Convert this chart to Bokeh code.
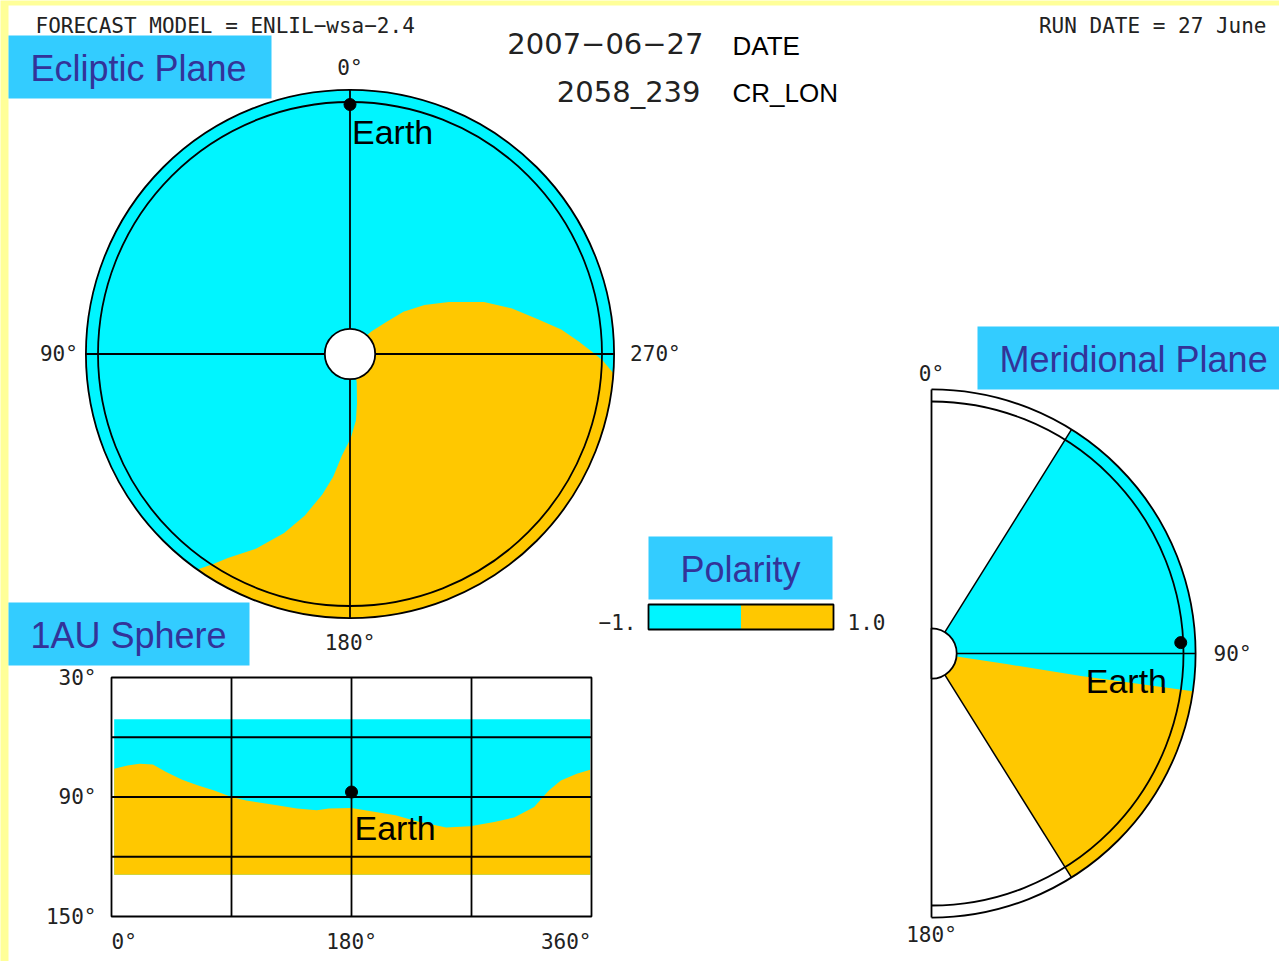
import numpy as np
from bokeh.plotting import figure
from bokeh.models import Range1d
from bokeh.core.properties import value
from bokeh.embed import file_html
from bokeh.resources import INLINE

W, H = 1279, 961
CYAN = "#00F5FF"
GOLD = "#FFC800"
TAG_FILL = "#33CCFF"
TAG_TEXT = "#333399"
INK = "#222222"
MONO = "DejaVu Sans Mono"
LW = 1.8

# ---------------------------------------------------------------- data
# Ecliptic plane: sector boundaries, radius (AU) vs longitude (deg, CCW from Earth)
ecl_lead_r = [0.10, 0.125, 0.19, 0.27, 0.354, 0.443, 0.570, 0.668, 0.754, 0.844, 0.909, 0.963, 1.005, 1.048]
ecl_lead_lon = [318.0, 316.4, 311.4, 308.3, 303.4, 297.7, 291.2, 285.7, 280.7, 276.6, 273.1, 270.4, 268.4, 265.8]
ecl_trail_r = [0.10, 0.115, 0.197, 0.265, 0.334, 0.405, 0.492, 0.567, 0.665, 0.757, 0.858, 0.944, 0.992, 1.048]
ecl_trail_lon = [194.0, 193.4, 188.1, 185.1, 180.5, 175.4, 172.2, 168.9, 164.4, 159.8, 154.2, 149.1, 147.0, 144.7]
ecl_r_inner = 0.1
ecl_r_1au = 1.0
ecl_r_outer = 1.048
ecl_tick_lon = [0, 90, 180, 270]
ecl_tick_labels = ["0°", "90°", "180°", "270°"]

# Earth
earth_r = 0.99
earth_lon_ecl = 0.0
earth_lon_sph = 180.0
earth_colat = 87.5

# Meridional plane: model colatitude extent and sector boundary (radius AU vs colatitude deg)
mer_colat_min = 32.0
mer_colat_max = 148.0
mer_bnd_r = [0.10, 0.30, 0.60, 1.048]
mer_bnd_colat = [97.0, 98.0, 98.6, 98.2]
mer_tick_labels = ["0°", "90°", "180°"]

# 1 AU sphere: sector boundary colatitude vs Carrington-like longitude
sph_lon = [2, 12, 21, 31, 41, 53, 65, 77, 90, 101, 124, 139, 154, 163, 180, 198, 213,
           228, 243, 251, 269, 287, 302, 317, 328, 337, 349, 359]
sph_bnd_colat = [75.8, 74.2, 73.3, 73.7, 77.5, 81.3, 84.2, 86.7, 90.0, 91.7, 94.2, 95.8,
                 96.7, 95.8, 95.5, 97.5, 99.2, 102.0, 104.2, 105.3, 104.7, 102.5, 100.3,
                 95.0, 86.7, 81.7, 78.3, 76.3]
sph_lon_min, sph_lon_max = 2.0, 359.0
sph_colat_min, sph_colat_max = 51.0, 129.0
sph_lon_ticks = [0, 180, 360]
sph_lon_labels = ["0°", "180°", "360°"]
sph_colat_ticks = [30, 90, 150]
sph_colat_labels = ["30°", "90°", "150°"]
sph_lon_grid = [90, 180, 270]
sph_colat_grid = [60, 90, 120]

# Polarity scale
polarity_min, polarity_mid, polarity_max = -1.0, 0.0, 1.0
polarity_labels = ["\u22121.", "1.0"]

# ---------------------------------------------------------------- figure
p = figure(width=W, height=H, x_range=Range1d(0, W), y_range=Range1d(H, 0),
           x_axis_type=None, y_axis_type=None, toolbar_location=None,
           output_backend="svg", min_border=0, outline_line_color=None,
           background_fill_color="#FFFF99", border_fill_color="#FFFF99")


def lin(p0, v0, p1, v1):
    s = (v1 - v0) / (p1 - p0)
    return lambda px: v0 + (px - p0) * s


def xr(f):
    return Range1d(f(0), f(W))


def yr(f):
    return Range1d(f(H), f(0))


ecl_fx, ecl_fy = lin(349.5, 0, 601.5, 1), lin(353.5, 0, 101.5, 1)
mer_fx, mer_fy = lin(931, 0, 1183, 1), lin(653, 0, 401, 1)
sph_fx, sph_fy = lin(111, 0, 591, 360), lin(677, 30, 916, 150)
pol_fx = lin(648, -1, 833, 1)

p.extra_x_ranges = {"ecl_x": xr(ecl_fx), "mer_x": xr(mer_fx), "sph_x": xr(sph_fx), "pol_x": xr(pol_fx)}
p.extra_y_ranges = {"ecl_y": yr(ecl_fy), "mer_y": yr(mer_fy), "sph_y": yr(sph_fy)}

E = dict(x_range_name="ecl_x", y_range_name="ecl_y")
M = dict(x_range_name="mer_x", y_range_name="mer_y")
S = dict(x_range_name="sph_x", y_range_name="sph_y")
P = dict(x_range_name="pol_x")


def label(x, y, s, size, font=MONO, color=INK, align="left",
          baseline="middle", **kw):
    p.text(x=[x], y=[y], text=[s], text_font=value(font), text_font_size=f"{size}px",
           text_color=color, text_align=align, text_baseline=baseline, **kw)


# white sheet on the page
p.quad(left=8, right=W, top=5, bottom=H, fill_color="white", line_color=None)

# ---------------------------------------------------------------- header
label(35, 25, "FORECAST MODEL = ENLIL\u2212wsa\u22122.4", 21)
label(1266, 25, "RUN DATE = 27 June", 21, align="right")
label(703, 43, "2007\u221206\u221227", 29, font="DejaVu Sans", align="right")
label(700, 91, "2058_239", 29, font="DejaVu Sans", align="right")
label(732, 45, "DATE", 26, font="Liberation Sans", color="black")
label(732, 92, "CR_LON", 26, font="Liberation Sans", color="black")

# ---------------------------------------------------------------- ecliptic plane
def ecl_xy(r, lon):
    r = np.asarray(r, dtype=float)
    t = np.radians(np.asarray(lon, dtype=float))
    return -r * np.sin(t), r * np.cos(t)


p.circle(x=[0], y=[0], radius=ecl_r_outer, fill_color=CYAN, line_color=None, **E)

arc_out = np.linspace(ecl_lead_lon[-1], ecl_trail_lon[-1], 120)
arc_in = np.linspace(ecl_trail_lon[0], ecl_lead_lon[0], 60)
g_lon = np.concatenate([ecl_lead_lon, arc_out, ecl_trail_lon[::-1], arc_in])
g_r = np.concatenate([ecl_lead_r, np.full(arc_out.size, ecl_r_outer),
                      ecl_trail_r[::-1], np.full(arc_in.size, ecl_r_inner)])
gx, gy = ecl_xy(g_r, g_lon)
p.patch(x=gx, y=gy, fill_color=GOLD, line_color=None, **E)

p.circle(x=[0, 0], y=[0, 0], radius=[ecl_r_1au, ecl_r_outer], fill_color=None,
         line_color="black", line_width=LW, **E)
p.segment(x0=[-ecl_r_outer, 0], y0=[0, -ecl_r_outer], x1=[ecl_r_outer, 0],
          y1=[0, ecl_r_outer], line_color="black", line_width=LW, **E)
p.circle(x=[0], y=[0], radius=ecl_r_inner, fill_color="white", line_color="black",
         line_width=LW, **E)

ex, ey = ecl_xy(earth_r, earth_lon_ecl)
p.scatter(x=[float(ex)], y=[float(ey)], size=12, color="black", **E)
label(float(ex), float(ey), "Earth", 34, font="Liberation Sans", color="black",
      baseline="middle", x_offset=2, y_offset=27, **E)

# longitude labels around the disc
tx, ty = ecl_xy(ecl_r_outer, ecl_tick_lon)
label(float(tx[0]), float(ty[0]), ecl_tick_labels[0], 21, align="center", y_offset=-22, **E)
label(float(tx[1]), float(ty[1]), ecl_tick_labels[1], 21, align="right", x_offset=-8, **E)
label(float(tx[2]), float(ty[2]), ecl_tick_labels[2], 21, align="center", y_offset=25, **E)
label(float(tx[3]), float(ty[3]), ecl_tick_labels[3], 21, align="left", x_offset=16, **E)

# ---------------------------------------------------------------- meridional plane
def mer_xy(r, colat):
    r = np.asarray(r, dtype=float)
    t = np.radians(np.asarray(colat, dtype=float))
    return r * np.sin(t), r * np.cos(t)


def bk_angle(colat):
    return np.radians(90.0 - colat)


p.annular_wedge(x=0, y=0, inner_radius=ecl_r_inner, outer_radius=ecl_r_outer,
                start_angle=bk_angle(mer_colat_max), end_angle=bk_angle(mer_colat_min),
                fill_color=CYAN, line_color=None, **M)

m_out = np.linspace(mer_bnd_colat[-1], mer_colat_max, 80)
m_in = np.linspace(mer_colat_max, mer_bnd_colat[0], 40)
mg_c = np.concatenate([mer_bnd_colat, m_out, m_in])
mg_r = np.concatenate([mer_bnd_r, np.full(m_out.size, ecl_r_outer), np.full(m_in.size, ecl_r_inner)])
mx, my = mer_xy(mg_r, mg_c)
p.patch(x=mx, y=my, fill_color=GOLD, line_color=None, **M)

p.arc(x=[0, 0], y=[0, 0], radius=[ecl_r_1au, ecl_r_outer], start_angle=-np.pi / 2,
      end_angle=np.pi / 2, line_color="black", line_width=LW, **M)
ex0, ey0 = mer_xy(ecl_r_inner, [mer_colat_min, mer_colat_max, 90.0])
ex1, ey1 = mer_xy(ecl_r_outer, [mer_colat_min, mer_colat_max, 90.0])
p.segment(x0=ex0, y0=ey0, x1=ex1, y1=ey1, line_color="black", line_width=1.5, **M)
p.segment(x0=[0], y0=[-ecl_r_outer], x1=[0], y1=[ecl_r_outer], line_color="black",
          line_width=LW, **M)
p.wedge(x=0, y=0, radius=ecl_r_inner, start_angle=-np.pi / 2, end_angle=np.pi / 2,
        fill_color="white", line_color="black", line_width=LW, **M)

mex, mey = mer_xy(earth_r, earth_colat)
p.scatter(x=[float(mex)], y=[float(mey)], size=12, color="black", **M)
label(float(mex), float(mey), "Earth", 34, font="Liberation Sans", color="black",
      baseline="middle", x_offset=-95, y_offset=38, **M)

label(0, ecl_r_outer, mer_tick_labels[0], 21, align="center", y_offset=-15, **M)
label(ecl_r_outer, 0, mer_tick_labels[1], 21, align="left", x_offset=18, **M)
label(0, -ecl_r_outer, mer_tick_labels[2], 21, align="center", y_offset=17, **M)

# ---------------------------------------------------------------- 1 AU sphere
p.quad(left=sph_lon_min, right=sph_lon_max, top=sph_colat_min, bottom=sph_colat_max,
       fill_color=CYAN, line_color=None, **S)
sx = list(sph_lon) + [sph_lon_max, sph_lon_min]
sy = list(sph_bnd_colat) + [sph_colat_max, sph_colat_max]
p.patch(x=sx, y=sy, fill_color=GOLD, line_color=None, **S)

p.segment(x0=sph_lon_grid, y0=[sph_colat_ticks[0]] * 3, x1=sph_lon_grid,
          y1=[sph_colat_ticks[-1]] * 3, line_color="black", line_width=LW, **S)
p.segment(x0=[sph_lon_ticks[0]] * 3, y0=sph_colat_grid, x1=[sph_lon_ticks[-1]] * 3,
          y1=sph_colat_grid, line_color="black", line_width=LW, **S)
p.quad(left=sph_lon_ticks[0], right=sph_lon_ticks[-1], top=sph_colat_ticks[0],
       bottom=sph_colat_ticks[-1], fill_color=None, line_color="black", line_width=LW, **S)

p.scatter(x=[earth_lon_sph], y=[earth_colat], size=12, color="black", **S)
label(earth_lon_sph, earth_colat, "Earth", 34, font="Liberation Sans", color="black",
      baseline="middle", x_offset=3, y_offset=36, **S)

for c, t in zip(sph_colat_ticks, sph_colat_labels):
    label(sph_lon_ticks[0], c, t, 21, align="right", x_offset=-15, **S)
for lon, t, al in zip(sph_lon_ticks, sph_lon_labels, ["left", "center", "right"]):
    label(lon, sph_colat_ticks[-1], t, 21, align=al, y_offset=25, **S)

# ---------------------------------------------------------------- polarity scale
p.quad(left=[polarity_min, polarity_mid], right=[polarity_mid, polarity_max],
       top=604, bottom=629, fill_color=[CYAN, GOLD], line_color=None, **P)
p.quad(left=polarity_min, right=polarity_max, top=604, bottom=629, fill_color=None,
       line_color="black", line_width=LW, **P)
label(polarity_min, 621, polarity_labels[0], 21, align="right", x_offset=-12, **P)
label(polarity_max, 621, polarity_labels[1], 21, align="left", x_offset=14, **P)

# ---------------------------------------------------------------- panel tags
tags = [("Ecliptic Plane", 8, 271, 35, 98, 30),
        ("Meridional Plane", 977, 1279, 326, 389, 999),
        ("Polarity", 648, 832, 536, 599, None),
        ("1AU Sphere", 8, 249, 602, 665, 30)]
for text, l, r, t, b, tx0 in tags:
    p.quad(left=l, right=r, top=t, bottom=b, fill_color=TAG_FILL, line_color=None)
    if tx0 is None:
        label((l + r) / 2, (t + b) / 2 + 1, text, 36, font="Liberation Sans",
              color=TAG_TEXT, align="center")
    else:
        label(tx0, (t + b) / 2 + 1, text, 36, font="Liberation Sans", color=TAG_TEXT)

open("out.html", "w").write(file_html(p, INLINE))
